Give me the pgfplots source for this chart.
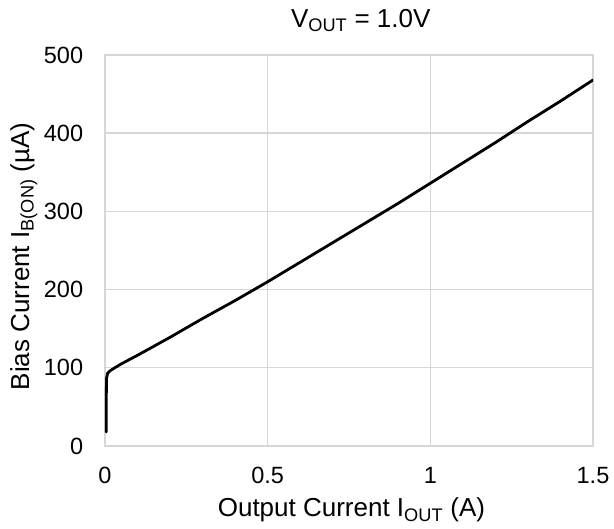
\documentclass[border=0pt]{standalone}
\usepackage{pgfplots}
\pgfplotsset{compat=1.18}
\usepackage{fontspec}
\setmainfont{Liberation Sans}
\definecolor{gridgray}{RGB}{214,214,214}
\newcommand{\lblfont}{\fontsize{26}{31}\selectfont}
\begin{document}
\begin{tikzpicture}[x=1pt,y=1pt]
\begin{axis}[
  at={(0,0)}, anchor=south west,
  scale only axis,
  width=488pt, height=391pt,
  xmin=0, xmax=1.5, ymin=0, ymax=500,
  xtick={0,0.5,1,1.5}, ytick={0,100,200,300,400,500},
  xticklabels={0,0.5,1,1.5},
  grid=major,
  major grid style={gridgray, line width=1.4pt},
  axis line style={gridgray, line width=1.4pt},
  major tick length=0pt,
  /pgf/number format/assume math mode=true,
  tick label style={font=\fontsize{23.5}{28}\selectfont, black},
  xticklabel style={anchor=base, yshift=-37.5pt},
  yticklabel style={anchor=east, inner sep=0pt, xshift=-21.7pt},
  title={V\textsubscript{OUT} = 1.0V},
  title style={font=\lblfont, at={(axis description cs:0.524,1.056)}, anchor=base},
  xlabel={Output Current I\textsubscript{OUT} (A)},
  ylabel={Bias Current I\textsubscript{B(ON)} (µA)},
  xlabel style={font=\lblfont, at={(axis description cs:0.505,-0.1816)}, anchor=base},
  ylabel style={font=\lblfont, at={(axis description cs:-0.1557,0.485)}, anchor=base},
]
\addplot[black, line width=2.8pt, line join=round, line cap=round] coordinates {
(0.004,18) (0.004,60) (0.0045,86) (0.008,93) (0.015,96) (0.03,100) (0.05,105)
(0.1,116) (0.2,139) (0.3,163) (0.4,186) (0.5,210) (0.6,235) (0.7,260)
(0.8,285) (0.9,310) (1.0,336) (1.1,362) (1.2,388) (1.3,415) (1.4,441) (1.5,468)
};
\end{axis}
\path (-105,-83) rectangle (509,446);
\end{tikzpicture}
\end{document}
